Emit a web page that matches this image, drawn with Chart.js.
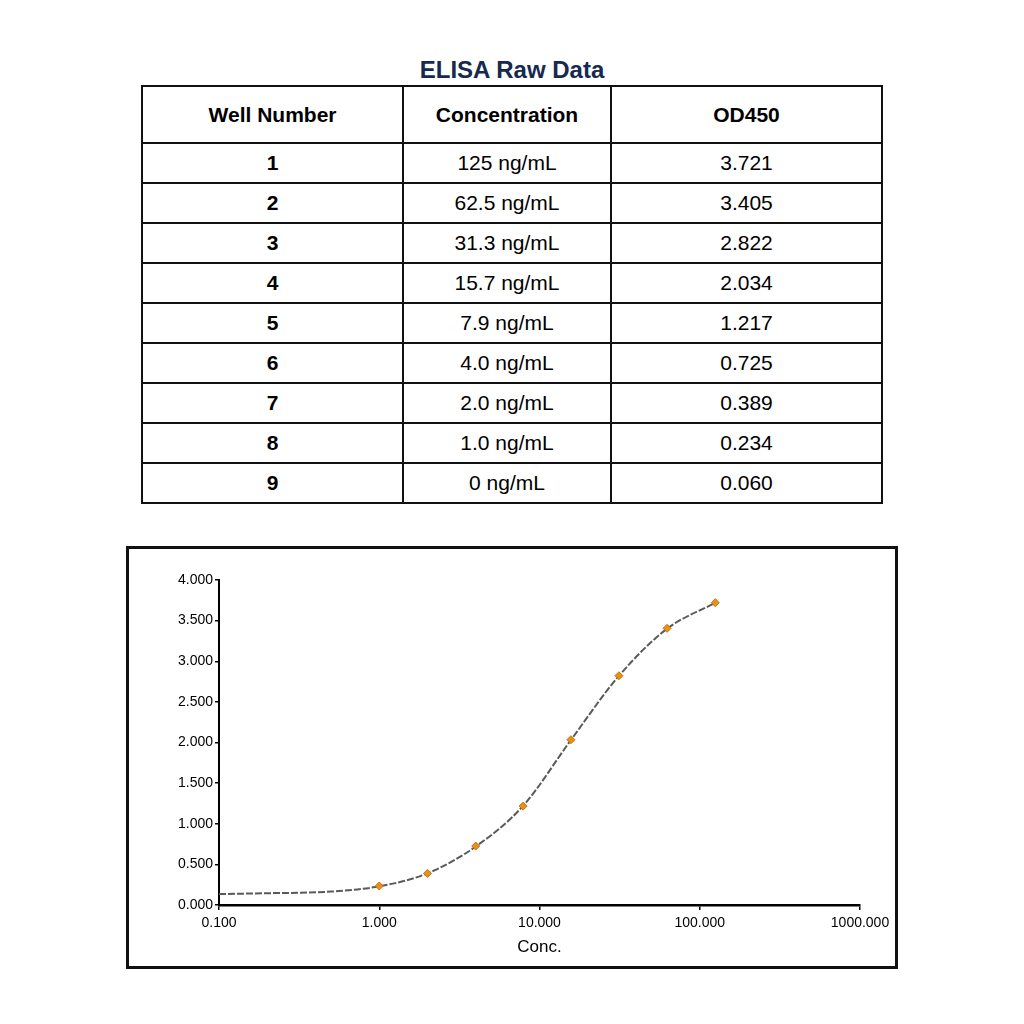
<!DOCTYPE html>
<html>
<head>
<meta charset="utf-8">
<script src="https://cdn.jsdelivr.net/npm/chart.js@4/dist/chart.umd.min.js"></script>
<style>
  body { margin:0; width:1024px; height:1024px; background:#fff; position:relative; font-family:"Liberation Sans", Arial, sans-serif; }
  #title { position:absolute; left:0; width:1024px; top:56px; text-align:center; font-weight:bold; font-size:24px; color:#16294f; }
  table { position:absolute; left:141px; top:85px; border-collapse:collapse; }
  td, th { border:2px solid #111; text-align:center; font-size:21px; padding:0; }
  th { height:55px; }
  td { height:38px; }
  td.num { font-weight:bold; }
  #box { position:absolute; left:126px; top:546px; width:766px; height:417px; border:3px solid #111; }
  #box canvas { display:block; }
</style>
</head>
<body>
<div id="title">ELISA Raw Data</div>
<table id="rawTable"></table>
<div id="box"><canvas id="curveChart" width="766" height="417"></canvas></div>
<script>
const HEADERS = ["Well Number", "Concentration", "OD450"];
const WELLS = [1,2,3,4,5,6,7,8,9];
const CONC_LABELS = ["125 ng/mL","62.5 ng/mL","31.3 ng/mL","15.7 ng/mL","7.9 ng/mL","4.0 ng/mL","2.0 ng/mL","1.0 ng/mL","0 ng/mL"];
const CONC = [125, 62.5, 31.3, 15.7, 7.9, 4.0, 2.0, 1.0, 0];
const OD = ["3.721","3.405","2.822","2.034","1.217","0.725","0.389","0.234","0.060"];

// fitted curve
const CURVE_X = [0.1, 0.2, 0.5, 1, 2, 4, 7.9, 15.7, 31.3, 62.5, 125];
const CURVE_Y = [0.135, 0.145, 0.165, 0.23, 0.39, 0.72, 1.22, 2.03, 2.82, 3.40, 3.72];

const X_TICKS = [0.1, 1, 10, 100, 1000];

// ---------- TABLE ----------
const COL_W = [259, 206, 269];
const table = document.getElementById("rawTable");
let head = "<tr>" + HEADERS.map((h,i)=>`<th style="width:${COL_W[i]}px">${h}</th>`).join("") + "</tr>";
let body = WELLS.map((w,i)=>`<tr><td class="num">${w}</td><td>${CONC_LABELS[i]}</td><td>${OD[i]}</td></tr>`).join("");
table.innerHTML = head + body;

// ---------- CHART ----------
const points = CONC.map((c,i)=>({ x:c, y:parseFloat(OD[i]) })).filter(p=>p.x>0);
const curve = CURVE_X.map((x,i)=>({ x:x, y:CURVE_Y[i] }));
const tickFont = { family:"Liberation Sans", size:14 };

new Chart(document.getElementById("curveChart"), {
  type:"scatter",
  data:{
    datasets:[
      { label:"OD450", data:points, pointStyle:"rectRot", pointRadius:4, pointBackgroundColor:"#e8901c", pointBorderColor:"#c8740e", pointBorderWidth:1, order:0 },
      { label:"fit", data:curve, showLine:true, pointRadius:0, borderColor:"#5a5a5a", borderWidth:2, borderDash:[7,2], cubicInterpolationMode:"monotone", order:1 }
    ]
  },
  options:{
    responsive:false,
    animation:false,
    layout:{ padding:{ top:31, right:35, left:0, bottom:0 } },
    plugins:{ legend:{ display:false }, tooltip:{ enabled:false } },
    scales:{
      x:{
        type:"logarithmic", min:0.1, max:1000,
        afterBuildTicks: s => { s.ticks = X_TICKS.map(v=>({ value:v })); },
        afterFit: s => { s.height = 61; },
        ticks:{ color:"#000", font:tickFont, padding:5, maxRotation:0, autoSkip:false, callback: v => Number(v).toFixed(3) },
        grid:{ display:true, drawOnChartArea:false, drawTicks:true, tickLength:5, color:"#000", lineWidth:1.5 },
        border:{ display:true, color:"#000", width:2.5 },
        title:{ display:true, text:"Conc.", color:"#000", font:{ family:"Liberation Sans", size:17 }, padding:{ top:0, bottom:8 } }
      },
      y:{
        min:0, max:4,
        afterFit: s => { s.width = 90; },
        ticks:{ stepSize:0.5, color:"#000", font:tickFont, padding:2, callback: v => Number(v).toFixed(3) },
        grid:{ display:true, drawOnChartArea:false, drawTicks:true, tickLength:4, color:"#000", lineWidth:1.5 },
        border:{ display:true, color:"#000", width:2 }
      }
    }
  }
});
</script>
</body>
</html>
